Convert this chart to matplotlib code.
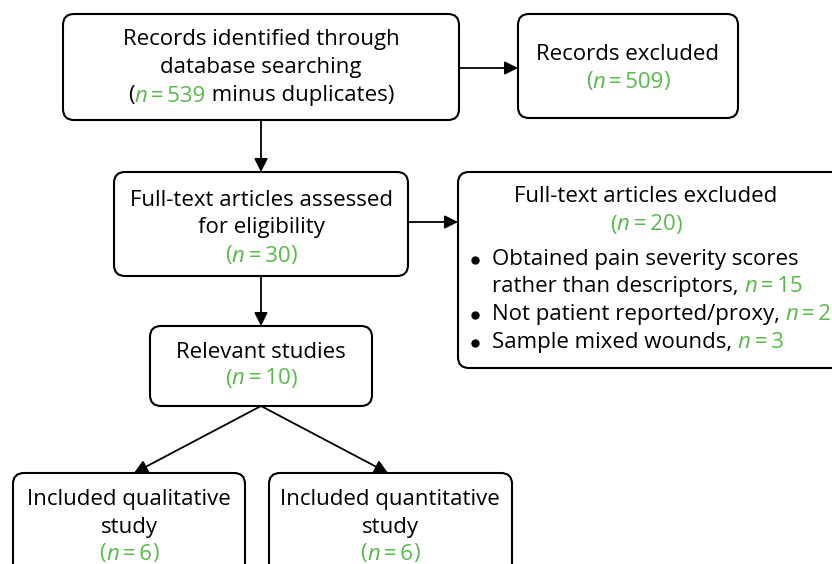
import matplotlib.pyplot as plt
from matplotlib.patches import FancyBboxPatch, FancyArrowPatch

FONT = ['Open Sans', 'DejaVu Sans']
GREEN = '#58ba4b'
SIZE = 16

# counts shown in the flow diagram
n_identified = 539
n_excluded_records = 509
n_fulltext = 30
n_excluded_fulltext = 20
n_relevant = 10
n_qualitative = 6
n_quantitative = 6
exclusion_reasons = ['Obtained pain severity scores\nrather than descriptors',
                     'Not patient reported/proxy',
                     'Sample mixed wounds']
exclusion_counts = [15, 2, 3]

fig = plt.figure(figsize=(8.32, 5.64), dpi=100)
ax = fig.add_axes([0, 0, 1, 1])
ax.set_xlim(0, 832)
ax.set_ylim(564, 0)
ax.axis('off')
fig.canvas.draw()
renderer = fig.canvas.get_renderer()
DY = 2  # small nudge so text sits like the original


def box(x0, y0, x1, y1):
    ax.add_patch(FancyBboxPatch((x0, y0), x1 - x0, y1 - y0,
                                boxstyle='round,pad=0,rounding_size=11',
                                fc='white', ec='black', lw=1.5))


def arrow(p0, p1):
    ax.add_patch(FancyArrowPatch(p0, p1, arrowstyle='-|>', mutation_scale=20,
                                 color='black', lw=1.3, shrinkA=0, shrinkB=0))


def line(x, y, segs, ha='center'):
    # segs: list of (text, green?, italic?)
    objs = []
    for s, g, it in segs:
        t = ax.text(0, y + DY, s, fontsize=SIZE, family=FONT, va='center', ha='left',
                    color=GREEN if g else 'black',
                    style='italic' if it else 'normal')
        objs.append((t, t.get_window_extent(renderer).width))
    total = sum(w for _, w in objs)
    cur = x - total / 2 if ha == 'center' else x
    for t, w in objs:
        t.set_x(cur)
        cur += w


def n_segs(v):
    return [('(', True, False), ('n', True, True),
            ('\u2009=\u2009' + str(v), True, False), (')', True, False)]


# boxes
box(63, 14, 459, 120)
box(518, 14, 738, 118)
box(114, 172, 408, 276)
box(458, 172, 850, 368)
box(150, 326, 372, 406)
box(13, 473, 245, 580)
box(269, 473, 512, 580)

# arrows
arrow((459, 68), (518, 68))
arrow((261, 120), (261, 172))
arrow((408, 222), (458, 222))
arrow((261, 276), (261, 326))
arrow((261, 406), (134, 473))
arrow((261, 406), (388, 473))

# box texts
line(261, 38, [('Records identified through', False, False)])
line(261, 66, [('database searching', False, False)])
line(261, 94, [('(', False, False), ('n', True, True),
               ('\u2009=\u2009' + str(n_identified), True, False),
               (' minus duplicates)', False, False)])

line(628, 52, [('Records excluded', False, False)])
line(628, 80, n_segs(n_excluded_records))

line(261, 198, [('Full-text articles assessed', False, False)])
line(261, 226, [('for eligibility', False, False)])
line(261, 254, n_segs(n_fulltext))

line(646, 195, [('Full-text articles excluded', False, False)])
line(646, 223, n_segs(n_excluded_fulltext))
y = 257
for reason, cnt in zip(exclusion_reasons, exclusion_counts):
    parts = reason.split('\n')
    ax.plot(475, y + DY + 1, 'o', ms=5, color='black')
    for i, p in enumerate(parts):
        if i == len(parts) - 1:
            line(492, y, [(p + ', ', False, False), ('n', True, True),
                          ('\u2009=\u2009' + str(cnt), True, False)], ha='left')
        else:
            line(492, y, [(p, False, False)], ha='left')
        y += 27.7

line(261, 350, [('Relevant studies', False, False)])
line(261, 377, n_segs(n_relevant))

line(129, 497, [('Included qualitative', False, False)])
line(129, 525, [('study', False, False)])
line(129, 552, n_segs(n_qualitative))

line(390, 497, [('Included quantitative', False, False)])
line(390, 525, [('study', False, False)])
line(390, 552, n_segs(n_quantitative))

fig.savefig('out.png', dpi=100)
